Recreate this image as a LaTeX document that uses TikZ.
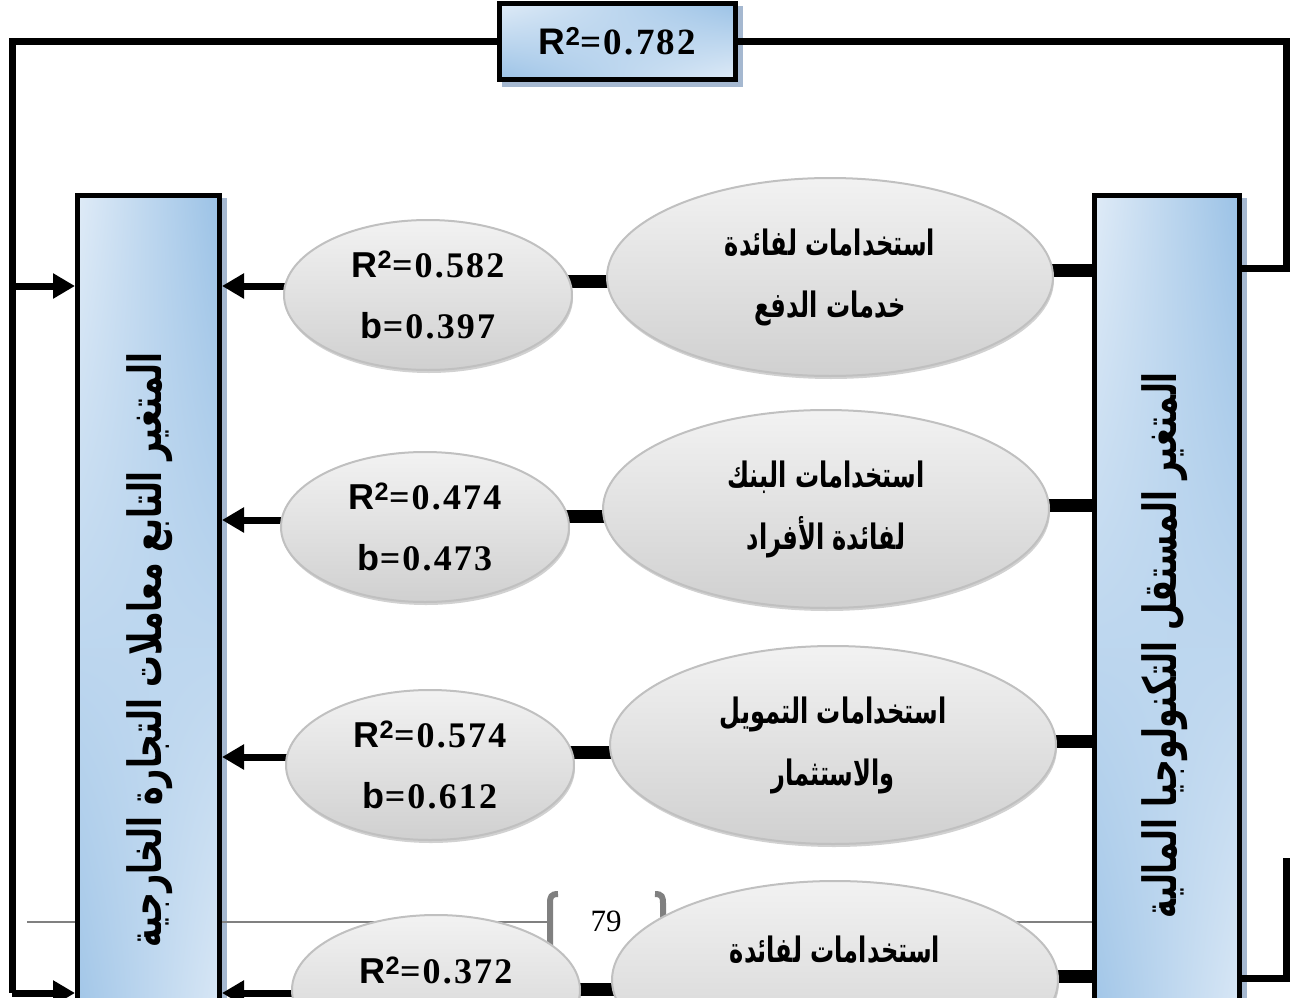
\documentclass[tikz,border=0pt]{standalone}
\usepackage{fontspec}
\usepackage{graphicx}
\setmainfont{Liberation Serif}
\newfontfamily\sansf{Liberation Sans}
\newfontfamily\numf[LetterSpace=6]{Liberation Serif}
\newfontfamily\arabicfont[Script=Arabic]{DejaVu Sans}
\TeXXeTstate=1
\usetikzlibrary{arrows.meta,shapes.geometric,shadows,shadings,calc}
\pgfdeclarelayer{bg}
\pgfsetlayers{bg,main}
\definecolor{bluelt}{RGB}{223,235,247}
\definecolor{bluedk}{RGB}{155,194,230}
\definecolor{shadowblue}{RGB}{165,184,208}
\definecolor{ellborder}{RGB}{192,192,192}
\definecolor{elltop}{RGB}{242,242,242}
\definecolor{ellbot}{RGB}{208,208,208}
\definecolor{footgray}{RGB}{128,128,128}
\newcommand{\rsq}[1]{{\sansf\bfseries R\textsuperscript{2}}{\numf\bfseries=#1}}
\newcommand{\bval}[1]{{\sansf\bfseries b}{\numf\bfseries=#1}}
\newcommand{\artxt}[1]{\scalebox{0.86}[1.25]{\arabicfont\bfseries\beginR #1\endR}}
\newcommand{\vartxt}[1]{\scalebox{0.93}[1.35]{\arabicfont\bfseries\beginR #1\endR}}
\begin{document}
\begin{tikzpicture}[x=1pt,y=-1pt,
  conn/.style={line width=7pt,line join=miter},
  thickconn/.style={line width=13pt},
  arr/.style={line width=7pt,-{Triangle[length=22pt,width=24pt]}},
  bluebox/.style={rectangle,draw=black,line width=5pt,inner sep=0pt,
    upper left=bluelt,upper right=bluedk,lower left=bluedk,lower right=bluelt},
  boxshadow/.style={fill=shadowblue},
  bigell/.style={ellipse,draw=ellborder,line width=2pt,top color=elltop,bottom color=ellbot,
    minimum width=446pt,minimum height=198pt,inner sep=0pt,align=center,
    font=\fontsize{28}{62}\selectfont,
    drop shadow={shadow xshift=1pt,shadow yshift=-3pt,fill=black!30,opacity=.6}},
  smallell/.style={bigell,minimum width=288pt,minimum height=150pt,
    font=\fontsize{36}{61}\selectfont},
  eltxt/.style={inner sep=0pt,font=\fontsize{28}{62}\selectfont},
  vtxt/.style={inner sep=0pt,rotate=90,font=\fontsize{34}{40}\selectfont},
  foot/.style={draw=footgray,line width=2.5pt},
  bracket/.style={draw=footgray,line width=6pt}
]
\useasboundingbox (0,0) rectangle (1290,998);
\clip (0,0) rectangle (1290,998);

% boxes
\node[bluebox,minimum width=236pt,minimum height=76pt,font=\fontsize{37}{40}\selectfont] (top) at (617.5,41.5) {\rsq{0.782}};
\node[bluebox,minimum width=142pt,minimum height=904pt] (L) at (148.5,647.5) {};
\node[bluebox,minimum width=145pt,minimum height=904pt] (R) at (1167,647.5) {};
\node[vtxt] (Lt) at (150,650) {\vartxt{المتغير التابع معاملات التجارة الخارجية}};
\node[vtxt] (Rt) at (1165,645) {\vartxt{المتغير المستقل التكنولوجيا المالية}};

% big ellipses
\node[bigell] (B1) at (830,277) {\artxt{استخدامات لفائدة}\\\artxt{خدمات الدفع}};
\node[bigell] (B2) at (826,509) {\artxt{استخدامات البنك}\\\artxt{لفائدة الأفراد}};
\node[bigell] (B3) at (833,745) {\artxt{استخدامات التمويل}\\\artxt{والاستثمار}};
\node[bigell] (B4) at (835,980) {};
\node[eltxt] (B4t) at (835,950) {\artxt{استخدامات لفائدة}};

% small ellipses
\node[smallell] (S1) at (428,295) {\rsq{0.582}\\\bval{0.397}};
\node[smallell] (S2) at (425,527) {\rsq{0.474}\\\bval{0.473}};
\node[smallell] (S3) at (430,765) {\rsq{0.574}\\\bval{0.612}};
\node[smallell] (S4) at (436,990) {};
\node[inner sep=0pt,font=\fontsize{36}{61}\selectfont] (S4t) at (436,970) {\rsq{0.372}};

% coordinates
\coordinate (tl) at (12,41.5);
\coordinate (tr) at (1286,41.5);
\coordinate (bl) at (12,993);
\coordinate (rc1) at (1286,268);
\coordinate (rc4top) at (1286,858);
\coordinate (rc4) at (1286,978);
\coordinate (a1) at (0,286);
\coordinate (a4) at (0,993);
\coordinate (y1r) at (0,270); \coordinate (y1m) at (0,281); \coordinate (y1a) at (0,286);
\coordinate (y2r) at (0,505); \coordinate (y2m) at (0,516); \coordinate (y2a) at (0,520);
\coordinate (y3r) at (0,741); \coordinate (y3m) at (0,752); \coordinate (y3a) at (0,757);
\coordinate (y4r) at (0,976); \coordinate (y4m) at (0,989); \coordinate (y4a) at (0,993);
\coordinate (fl) at (27,922);
\coordinate (fr) at (1095,922);
\coordinate (bkl) at (550,922);
\coordinate (bkr) at (663,922);

\begin{pgfonlayer}{bg}
  % box shadows
  \fill[boxshadow] ($(top.north west)+(5,5)$) rectangle ($(top.south east)+(5,5)$);
  \fill[boxshadow] ($(L.north west)+(5,5)$) rectangle ($(L.south east)+(5,5)$);
  \fill[boxshadow] ($(R.north west)+(5,5)$) rectangle ($(R.south east)+(5,5)$);
  % footer
  \draw[foot] (fl) -- (bkl);
  \draw[foot] (bkr) -- (fr);
  \draw[bracket] (558,894) .. controls (551,894) and (550,897) .. (550,903) -- (550,960);
  \draw[bracket] (655,894) .. controls (662,894) and (663,897) .. (663,903) -- (663,960);
  % outer loops
  \draw[conn] (top.center) -- (tr) -- (rc1) -- (R.center |- rc1);
  \draw[conn] (top.center) -- (tl) -- (bl);
  \draw[arr] (tl |- a1) -- (L.west |- a1);
  \draw[arr] (bl) -- (L.west |- a4);
  \draw[conn] (rc4top) -- (rc4) -- (R.center |- rc4);
  % rows
  \foreach \i in {1,2,3,4}{
    \draw[thickconn] (B\i.center |- y\i r) -- (R.center |- y\i r);
    \draw[thickconn] (S\i.center |- y\i m) -- (B\i.center |- y\i m);
    \draw[arr] (S\i.center |- y\i a) -- (L.east |- y\i a);
  }
\end{pgfonlayer}
\node[inner sep=0pt,font=\fontsize{31}{31}\selectfont,fill=white] (pg) at (606,921) {79};
\end{tikzpicture}
\end{document}
